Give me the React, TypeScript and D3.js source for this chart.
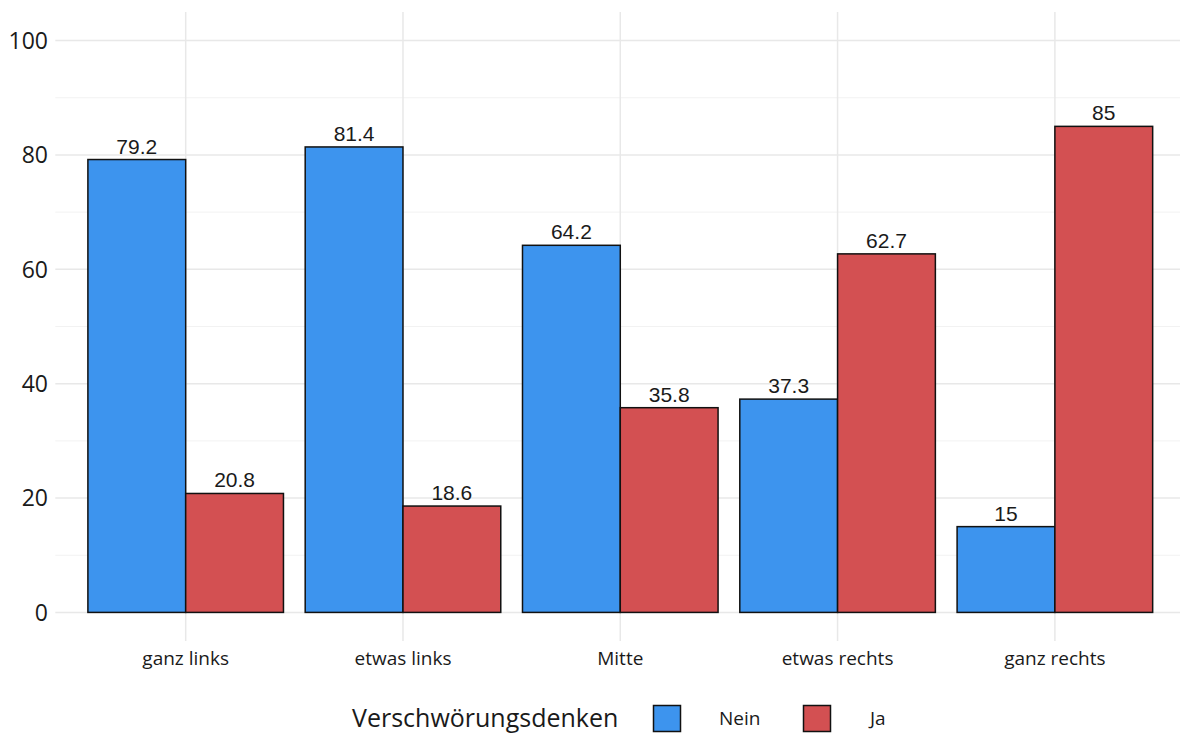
import React from "react";
import * as d3 from "d3";

const categories = ["ganz links", "etwas links", "Mitte", "etwas rechts", "ganz rechts"];
const groups = ["Nein", "Ja"];
const neinValues = [79.2, 81.4, 64.2, 37.3, 15];
const jaValues = [20.8, 18.6, 35.8, 62.7, 85];
const yTicks = [0, 20, 40, 60, 80, 100];
const yMinor = [10, 30, 50, 70, 90];
const legendTitle = "Verschwörungsdenken";
const colors = ["#3d94ee", "#d35052"];

const W = 1180;
const H = 734;

export default function App() {
  const step = 217.3;
  const panelLeft = 55.3;
  const x = d3
    .scaleLinear()
    .domain([0.4, 5.6])
    .range([panelLeft, panelLeft + 5.2 * step]);
  const y = d3.scaleLinear().domain([-5, 105]).range([641, 12]);
  const bw = 0.45;
  const series = [neinValues, jaValues];
  const font = "'Open Sans', 'Noto Sans', sans-serif";
  const labelFont = "'Liberation Sans', Arial, sans-serif";

  return (
    <svg
      width={W}
      height={H}
      style={{ position: "absolute", left: 0, top: 0, background: "#fff" }}
    >
      <rect x={0} y={0} width={W} height={H} fill="#fff" />
      {/* minor grid */}
      {yMinor.map((t) => (
        <line key={"m" + t} x1={x(0.4)} x2={W} y1={y(t)} y2={y(t)} stroke="#f2f2f2" strokeWidth={1} />
      ))}
      {/* major grid */}
      {yTicks.map((t) => (
        <line key={"g" + t} x1={x(0.4)} x2={W} y1={y(t)} y2={y(t)} stroke="#e8e8e8" strokeWidth={1.5} />
      ))}
      {categories.map((c, i) => (
        <line key={"v" + c} x1={x(i + 1)} x2={x(i + 1)} y1={y(105)} y2={y(-5)} stroke="#e8e8e8" strokeWidth={1.5} />
      ))}
      {/* bars */}
      {categories.map((c, i) =>
        series.map((vals, j) => {
          const x0 = x(i + 1 - bw + j * bw);
          const x1 = x(i + 1 + j * bw);
          return (
            <rect
              key={c + j}
              x={x0}
              y={y(vals[i])}
              width={x1 - x0}
              height={y(0) - y(vals[i])}
              fill={colors[j]}
              stroke="#111"
              strokeWidth={1.5}
            />
          );
        })
      )}
      {/* bar labels */}
      {categories.map((c, i) =>
        series.map((vals, j) => (
          <text
            key={"l" + c + j}
            x={x(i + 1 - bw / 2 + j * bw)}
            y={y(vals[i]) - 6}
            textAnchor="middle"
            fontFamily={labelFont}
            fontSize={21}
            fill="#1a1a1a"
          >
            {String(vals[i])}
          </text>
        ))
      )}
      {/* y axis labels */}
      {yTicks.map((t) => (
        <text
          key={"yt" + t}
          x={48}
          y={y(t)}
          dy="0.36em"
          textAnchor="end"
          fontFamily={font}
          fontSize={23}
          fill="#1a1a1a"
        >
          {t}
        </text>
      ))}
      {/* x axis labels */}
      {categories.map((c, i) => (
        <text
          key={"xt" + c}
          x={x(i + 1)}
          y={665}
          textAnchor="middle"
          fontFamily={font}
          fontSize={19}
          fill="#1a1a1a"
        >
          {c}
        </text>
      ))}
      {/* legend */}
      <text x={352} y={727} fontFamily={font} fontSize={25} fill="#1a1a1a">
        {legendTitle}
      </text>
      {groups.map((g, j) => {
        const kx = [653.5, 803.5][j];
        const tx = [719, 870][j];
        return (
          <g key={"lg" + g}>
            <rect x={kx} y={705.5} width={27} height={26} fill={colors[j]} stroke="#111" strokeWidth={1.5} />
            <text x={tx} y={725} fontFamily={font} fontSize={19} fill="#1a1a1a">
              {g}
            </text>
          </g>
        );
      })}
    </svg>
  );
}
